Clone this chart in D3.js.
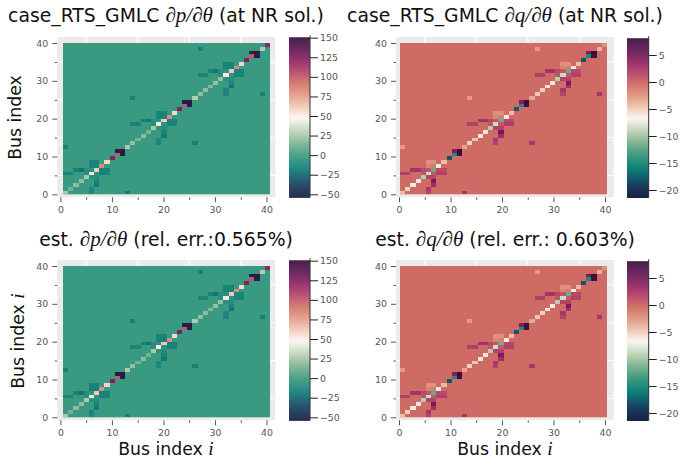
<!DOCTYPE html>
<html>
<head>
<meta charset="utf-8">
<script src="https://cdn.jsdelivr.net/npm/d3@7"></script>
<style>
html,body{margin:0;padding:0;background:#fff}
svg{display:block}
text{font-family:"DejaVu Sans",sans-serif}
.m{font-family:"Liberation Serif",serif;font-style:italic}
</style>
</head>
<body>
<svg id="c" width="692" height="466"></svg>
<script>
// ---- data ----
const busIndex = d3.range(1, 41);
const majorTicks = [0, 10, 20, 30, 40];
const minorTicks = [5, 15, 25, 35];
const pTicks = [-50, -25, 0, 25, 50, 75, 100, 125, 150];
const qTicks = [-20, -15, -10, -5, 0, 5];
const pRange = [-54, 150.5];
const qRange = [-21.4, 8.1];

const dpDiag = [26,15,20,20,27,52,62,82,58,125,100,146,27,22,15,20,15,26,52,62,82,58,125,100,146,28,20,20,18,22,22,52,62,82,58,125,100,146,28,120];
const dpOff = [
 [6,1,-12],[6,2,-12],[13,1,-15],[7,3,-18],[7,4,-13],[6,5,-6],[7,5,-8],[1,6,-13],[2,6,-13],[5,6,-8],[7,6,-5],[8,6,-14],[9,6,-14],
 [3,7,-14],[4,7,-20],[5,7,-7],[6,7,-5],[8,7,-14],[9,7,-14],[6,8,-14],[7,8,-14],[6,9,-14],[7,9,-14],[1,13,-15],
 [19,14,-12],[19,15,-12],[26,14,-15],[20,16,-18],[20,17,-13],[19,18,-6],[20,18,-8],[14,19,-13],[15,19,-13],[18,19,-8],[20,19,-5],[21,19,-14],[22,19,-14],
 [16,20,-14],[17,20,-20],[18,20,-7],[19,20,-5],[21,20,-14],[22,20,-14],[19,21,-14],[20,21,-14],[19,22,-14],[20,22,-14],[14,26,-15],
 [32,27,-12],[32,28,-12],[39,27,-15],[33,29,-18],[33,30,-13],[32,31,-6],[33,31,-8],[27,32,-13],[28,32,-13],[31,32,-8],[33,32,-5],[34,32,-14],[35,32,-14],
 [29,33,-14],[30,33,-20],[31,33,-7],[32,33,-5],[34,33,-14],[35,33,-14],[32,34,-14],[33,34,-14],[32,35,-14],[33,35,-14],[27,39,-15],
 [11,12,-50],[12,11,-50],[24,25,-50],[25,24,-50],[37,38,-50],[38,37,-50]
];
const dqDiag = [-4,-5,-6,-6,-9.5,-8.5,-12,-6,-4,-18,-15,7.8,-3,-5,-4.5,-6,-6,-9.5,-8.5,-12,-6,-4,-18,-15,7.8,-3,-4.5,-5,-6,-6,-9.5,-8.5,-12,-6,-4,-18,-15,7.8,-3.5,-2];
const dqOff = [
 [6,1,1.8],[6,2,2.5],[13,1,2.5],[7,3,3],[7,4,5],[6,5,1.8],[7,5,1.8],[1,6,2],[2,6,2],[5,6,1],[7,6,0.8],[8,6,2],[9,6,2],
 [3,7,2.8],[4,7,2.8],[5,7,1.5],[6,7,1],[8,7,1.5],[9,7,1.5],[6,8,-1.5],[7,8,-1],[6,9,-2],[7,9,-2],[1,13,-2.5],
 [19,14,1.8],[19,15,2.5],[26,14,2.5],[20,16,3],[20,17,5],[19,18,1.8],[20,18,1.8],[14,19,2],[15,19,2],[18,19,1],[20,19,0.8],[21,19,2],[22,19,2],
 [16,20,2.8],[17,20,2.8],[18,20,1.5],[19,20,1],[21,20,1.5],[22,20,1.5],[19,21,-1.5],[20,21,-1],[19,22,-2],[20,22,-2],[14,26,-2.5],
 [32,27,1.8],[32,28,2.5],[39,27,2.5],[33,29,3],[33,30,5],[32,31,1.8],[33,31,1.8],[27,32,2],[28,32,2],[31,32,1],[33,32,0.8],[34,32,2],[35,32,2],
 [29,33,2.8],[30,33,2.8],[31,33,1.5],[32,33,1],[34,33,1.5],[35,33,1.5],[32,34,-1.5],[33,34,-1],[32,35,-2],[33,35,-2],[27,39,-2.5],
 [11,12,4.5],[12,11,7.5],[24,25,4.5],[25,24,7.5],[37,38,4.5],[38,37,7.5]
];
// the estimated matrices are indistinguishable from the NR ones at this resolution
const estDpDiag = dpDiag, estDpOff = dpOff, estDqDiag = dqDiag, estDqOff = dqOff;

// ---- colour map (sampled from the colour bars) ----
const curlStops = [0,.06,.12,.18,.265,.35,.42,.5,.58,.65,.725,.8,.87,.94,1];
const curlColors = ["#151d44","#1a3558","#15586a","#0f7e78","#3a9a81","#86b596","#c0d6b8","#fdf5f4","#edc2ac","#e0957f","#cd6b64","#b03a68","#85205f","#5a1450","#340d35"];
const curl = d3.scaleLinear().domain(curlStops).range(curlColors).clamp(true);

// ---- layout ----
const tickColor = "#555555", labelColor = "#555555", gridBg = "#ebebeb";
const titleSize = 18.8, labelSize = 17.3;
const panels = [
 {diag:dpDiag, off:dpOff, ticks:pTicks, range:pRange,
  title:["case_RTS_GMLC ","∂p/∂θ"," (at NR sol.)"], titleX:166, titleY:22,
  bg:[57.3,275.3,37,197.3], heat:[63,270,43,194.3], x0:60.4, x40:266.5, y0:194.3, y40:43,
  cb:[289,310], cbT:[194.3,37.7], ylabel:["Bus index",""], ylX:21, ylY:117.5},
 {diag:dqDiag, off:dqOff, ticks:qTicks, range:qRange,
  title:["case_RTS_GMLC ","∂q/∂θ"," (at NR sol.)"], titleX:505, titleY:22,
  bg:[396,613.7,37,197.3], heat:[400,607,43,194.3], x0:399, x40:605, y0:194.3, y40:43,
  cb:[627,648.7], cbT:[190,55], cbVals:[-20,5]},
 {diag:estDpDiag, off:estDpOff, ticks:pTicks, range:pRange,
  title:["est. ","∂p/∂θ"," (rel. err.:0.565%)"], titleX:166, titleY:245.5,
  bg:[57.3,275.3,260,420.3], heat:[63,270,266,417.3], x0:60.4, x40:266.5, y0:417.3, y40:266,
  cb:[289,310], cbT:[417.3,260.7], ylabel:["Bus index ","i"], ylX:23.5, ylY:341,
  xlabel:["Bus index ","i"], xlX:166, xlY:455},
 {diag:estDqDiag, off:estDqOff, ticks:qTicks, range:qRange,
  title:["est. ","∂q/∂θ"," (rel. err.: 0.603%)"], titleX:505, titleY:245.5,
  bg:[396,613.7,260,420.3], heat:[400,607,266,417.3], x0:399, x40:605, y0:417.3, y40:266,
  cb:[627,648.7], cbT:[413,278], cbVals:[-20,5],
  xlabel:["Bus index ","i"], xlX:505, xlY:455}
];

const svg = d3.select("#c");

function richText(g, parts, x, y, size, rotate) {
  const t = g.append("text").attr("text-anchor","middle").attr("font-size",size).attr("fill","#111");
  if (rotate) t.attr("transform",`translate(${x},${y}) rotate(-90)`);
  else t.attr("x",x).attr("y",y);
  t.style("white-space","pre");
  parts.forEach((s,i)=>{ if(!s) return;
    const sp = t.append("tspan").text(s);
    if (i%2===1) sp.attr("class","m").attr("font-size",size*1.12);
  });
}

function styleAxis(a){
  a.select(".domain").remove();
  a.selectAll(".tick line").attr("stroke",tickColor).attr("stroke-width",1);
  a.selectAll(".tick text").attr("fill",labelColor).attr("font-size",9.4).attr("font-family","DejaVu Sans");
}

panels.forEach(P=>{
  const g = svg.append("g");
  const [bl,br,bt,bb] = P.bg, [hl,hr,ht,hb] = P.heat;
  const x = d3.scaleLinear().domain([0,40]).range([P.x0,P.x40]);
  const y = d3.scaleLinear().domain([0,40]).range([P.y0,P.y40]);
  const cellX = d3.scaleBand().domain(busIndex).range([hl,hr]);
  const cellY = d3.scaleBand().domain(busIndex).range([hb,ht]);
  const cNorm = d3.scaleLinear().domain(P.range).range([0,1]);
  const color = v => curl(cNorm(v));

  g.append("rect").attr("x",bl).attr("y",bt).attr("width",br-bl).attr("height",bb-bt).attr("fill",gridBg);
  g.selectAll(".gx").data(minorTicks).join("line").attr("class","gx").attr("x1",d=>x(d)).attr("x2",d=>x(d)).attr("y1",bt).attr("y2",bb).attr("stroke","#fff").attr("stroke-width",1);
  g.selectAll(".gy").data(minorTicks).join("line").attr("class","gy").attr("y1",d=>y(d)).attr("y2",d=>y(d)).attr("x1",bl).attr("x2",br).attr("stroke","#fff").attr("stroke-width",1);

  // heat map
  g.append("rect").attr("x",hl).attr("y",ht).attr("width",hr-hl).attr("height",hb-ht).attr("fill",color(0));
  const cells = P.diag.map((v,i)=>[i+1,i+1,v]);
  g.selectAll(".cell").data(cells.concat(P.off)).join("rect").attr("class","cell")
    .attr("x",d=>cellX(d[0])).attr("y",d=>cellY(d[1]))
    .attr("width",cellX.bandwidth()).attr("height",cellY.bandwidth())
    .attr("fill",d=>color(d[2])).attr("shape-rendering","crispEdges");

  // axes
  styleAxis(g.append("g").attr("transform",`translate(0,${bb})`).call(d3.axisBottom(x).tickValues(majorTicks).tickSize(5).tickPadding(4)));
  styleAxis(g.append("g").attr("transform",`translate(0,${bb})`).call(d3.axisBottom(x).tickValues(minorTicks).tickSize(2.5).tickFormat("")));
  styleAxis(g.append("g").attr("transform",`translate(${bl},0)`).call(d3.axisLeft(y).tickValues(majorTicks).tickSize(5).tickPadding(4)));
  styleAxis(g.append("g").attr("transform",`translate(${bl},0)`).call(d3.axisLeft(y).tickValues(minorTicks).tickSize(2.5).tickFormat("")));

  // colour bar
  const [cl,cr] = P.cb;
  const tA = P.cbVals ? P.cbVals : [-50,150];
  const cy = d3.scaleLinear().domain(tA).range(P.cbT);
  const steps = d3.range(0,160).map(i=>P.range[0]+(P.range[1]-P.range[0])*i/160);
  const dv = (P.range[1]-P.range[0])/160;
  g.selectAll(".cb").data(steps).join("rect").attr("class","cb")
    .attr("x",cl).attr("width",cr-cl)
    .attr("y",d=>cy(d+dv)).attr("height",d=>cy(d)-cy(d+dv)+0.4)
    .attr("fill",d=>color(d+dv/2));
  const ac = g.append("g").attr("transform",`translate(${cr},0)`).call(d3.axisRight(cy).tickValues(P.ticks).tickSize(8).tickPadding(2).tickFormat(d3.format("d")));
  ac.select(".domain").remove();
  ac.selectAll(".tick line").attr("stroke","#222").attr("stroke-width",1);
  ac.selectAll(".tick text").attr("fill",labelColor).attr("font-size",9.4).attr("font-family","DejaVu Sans");
  g.append("line").attr("x1",cr).attr("x2",cr).attr("y1",cy(P.range[1])-2).attr("y2",cy(P.range[0])).attr("stroke","#333").attr("stroke-width",1);

  // labels
  richText(g, P.title, P.titleX, P.titleY, titleSize);
  if (P.ylabel) richText(g, P.ylabel, P.ylX, P.ylY, labelSize, true);
  if (P.xlabel) richText(g, P.xlabel, P.xlX, P.xlY, labelSize);
});
</script>
</body>
</html>
